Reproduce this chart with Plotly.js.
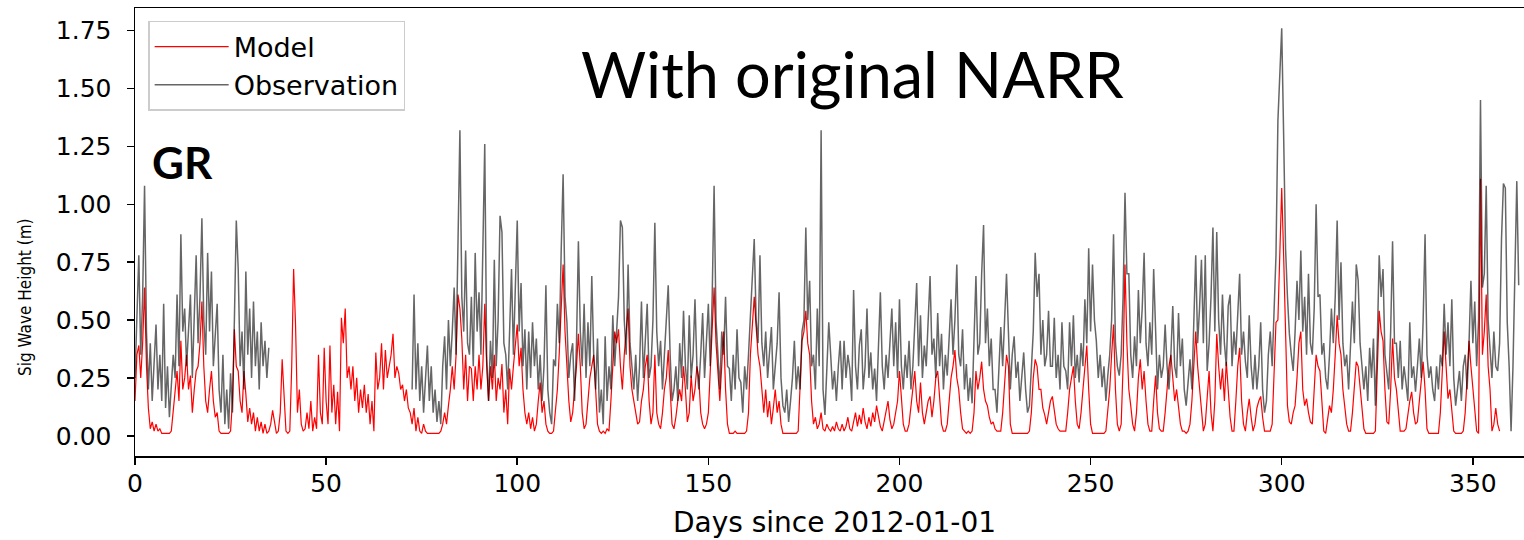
<!DOCTYPE html>
<html>
<head>
<meta charset="utf-8">
<script src="https://cdn.plot.ly/plotly-3.0.1.min.js"></script>
<style>
  html, body { margin: 0; padding: 0; background: #ffffff; overflow: hidden; }
  #chart { width: 1536px; height: 540px; }
</style>
</head>
<body>
<div id="chart"></div>
<script>
// Sampling step of the series (days)
const stepDays = 0.5;

// Observed significant wave height (m), every 0.5 day from day 0; null = no observation
const observation = [
  0.25,0.55,0.78,0.35,0.6,1.08,0.45,0.2,0.4,0.15,0.3,0.48,0.2,0.35,0.15,0.57,0.12,0.3,0.08,0.2,
  0.35,0.25,0.61,0.3,0.87,0.45,0.55,0.3,0.45,0.61,0.25,0.5,0.78,0.4,0.6,0.94,0.5,0.35,0.79,0.45,
  0.71,0.3,0.45,0.57,0.2,0.1,0.35,0.05,0.2,0.03,0.27,0.1,0.5,0.93,0.72,0.3,0.45,0.2,0.71,0.35,
  0.55,0.25,0.58,0.3,0.45,0.2,0.49,0.3,0.41,0.25,0.38,null,null,null,null,null,null,null,null,null,
  null,null,null,null,null,null,null,null,null,null,null,null,null,null,null,null,null,null,null,null,
  null,null,null,null,null,null,null,null,null,null,null,null,null,null,null,null,null,null,null,null,
  null,null,null,null,null,null,null,null,null,null,null,null,null,null,null,null,null,null,null,null,
  null,null,null,null,null,0.2,0.61,0.2,0.4,0.15,0.3,0.1,0.25,0.39,0.15,0.3,0.1,0.2,0.06,0.15,
  0.05,0.3,0.43,0.2,0.5,0.3,0.45,0.64,0.35,0.9,1.32,0.6,0.45,0.8,0.4,0.35,0.6,0.3,0.79,0.45,
  0.62,0.35,0.8,1.26,0.35,0.15,0.41,0.25,0.76,0.3,0.5,0.95,0.88,0.4,0.35,0.2,0.45,0.72,0.35,0.6,
  0.93,0.45,0.66,0.3,0.46,0.2,0.45,0.25,0.49,0.3,0.42,0.2,0.35,0.15,0.3,0.65,0.2,0.1,0.05,0.33,
  0.3,0.57,0.4,0.8,1.13,0.6,0.49,0.25,0.35,0.4,0.15,0.4,0.84,0.45,0.3,0.57,0.25,0.49,0.3,0.69,
  0.35,0.2,0.42,0.1,0.2,0.05,0.43,0.15,0.3,0.2,0.52,0.3,0.45,0.6,0.93,0.9,0.5,0.35,0.74,0.4,
  0.3,0.2,0.35,0.15,0.3,0.58,0.25,0.4,0.57,0.25,0.3,0.5,0.92,0.45,0.3,0.41,0.2,0.35,0.5,0.65,
  0.35,0.15,0.2,0.3,0.15,0.4,0.25,0.54,0.3,0.2,0.52,0.25,0.35,0.59,0.3,0.2,0.35,0.53,0.25,0.4,
  0.57,0.3,0.6,1.08,0.5,0.35,0.2,0.45,0.35,0.6,0.3,0.29,0.15,0.35,0.2,0.46,0.25,0.23,0.1,0.3,
  0.2,0.35,0.5,0.65,0.85,0.5,0.4,0.78,0.4,0.3,0.45,0.25,0.35,0.47,0.2,0.3,0.4,0.62,0.25,0.13,
  0.1,0.2,0.06,0.15,0.25,0.41,0.2,0.3,0.2,0.45,0.5,0.9,0.5,0.67,0.3,0.35,0.2,0.55,0.3,1.32,
  0.2,0.09,0.3,0.49,0.35,0.2,0.28,0.15,0.3,0.41,0.2,0.41,0.25,0.35,0.29,0.15,0.63,0.3,0.2,0.39,
  0.46,0.2,0.3,0.55,0.25,0.36,0.2,0.29,0.15,0.35,0.62,0.3,0.2,0.35,0.25,0.4,0.55,0.3,0.49,0.25,
  0.59,0.3,0.2,0.35,0.25,0.41,0.2,0.3,0.5,0.66,0.3,0.52,0.25,0.39,0.3,0.5,0.69,0.35,0.42,0.25,
  0.53,0.3,0.44,0.2,0.35,0.26,0.4,0.59,0.35,0.5,0.74,0.35,0.3,0.46,0.2,0.31,0.15,0.25,0.14,0.4,
  0.69,0.35,0.4,0.7,0.91,0.4,0.55,0.3,0.42,0.2,0.2,0.1,0.3,0.47,0.3,0.5,0.7,0.45,0.2,0.35,
  0.43,0.25,0.32,0.15,0.25,0.36,0.2,0.1,0.13,0.3,0.45,0.79,0.6,0.7,0.35,0.5,0.3,0.35,0.54,0.3,
  0.3,0.51,0.25,0.35,0.2,0.49,0.3,0.28,0.2,0.49,0.3,0.52,0.25,0.35,0.23,0.4,0.3,0.59,0.4,0.81,
  0.45,0.74,0.5,0.41,0.25,0.35,0.21,0.3,0.15,0.26,0.35,0.5,0.87,0.4,0.3,0.26,0.35,0.6,1.05,0.7,
  0.7,0.35,0.25,0.43,0.3,0.63,0.4,0.55,0.79,0.4,0.3,0.49,0.35,0.72,0.4,0.2,0.35,0.25,0.3,0.48,
  0.3,0.2,0.35,0.56,0.3,0.25,0.53,0.3,0.42,0.2,0.13,0.25,0.33,0.2,0.45,0.78,0.4,0.55,0.76,0.4,
  0.78,0.28,0.4,0.6,0.9,0.45,0.88,0.5,0.35,0.61,0.4,0.3,0.56,0.61,0.3,0.45,0.35,0.5,0.7,0.35,
  0.45,0.32,0.25,0.52,0.3,0.2,0.35,0.2,0.3,0.49,0.2,0.1,0.15,0.35,0.45,0.3,0.55,0.78,1.36,1.53,
  1.76,1.3,0.81,0.6,0.44,0.35,0.28,0.45,0.67,0.5,0.8,0.45,0.6,0.35,0.7,0.4,0.35,0.55,1.0,0.6,
  0.61,0.35,0.4,0.25,0.2,0.35,0.55,0.4,0.6,0.93,0.5,0.75,0.4,0.3,0.35,0.2,0.4,0.58,0.4,0.74,
  0.67,0.4,0.3,0.2,0.3,0.15,0.38,0.25,0.42,0.13,0.4,0.78,0.6,0.72,0.35,0.28,0.2,0.45,0.84,0.4,
  0.4,0.25,0.41,0.2,0.3,0.23,0.15,0.49,0.25,0.3,0.19,0.3,0.42,0.25,0.5,0.87,0.35,0.25,0.3,0.2,
  0.15,0.3,0.2,0.35,0.3,0.57,0.35,0.49,0.3,0.59,0.25,0.13,0.2,0.28,0.15,0.3,0.35,0.2,0.4,0.67,
  0.4,0.58,0.3,0.5,1.45,0.64,0.7,1.08,0.5,0.35,0.25,0.45,0.3,0.28,0.4,0.85,1.09,1.07,0.49,0.3,
  0.02,0.3,0.7,1.1,0.65
];

// Modelled significant wave height (m), every 0.5 day from day 0
const model = [
  0.15,0.35,0.39,0.25,0.4,0.64,0.3,0.12,0.03,0.06,0.02,0.05,0.02,0.03,0.01,0.01,0.01,0.01,0.01,0.02,
  0.1,0.2,0.28,0.15,0.41,0.2,0.25,0.35,0.2,0.26,0.1,0.2,0.28,0.3,0.4,0.58,0.3,0.15,0.1,0.2,
  0.28,0.15,0.08,0.1,0.02,0.01,0.01,0.01,0.01,0.01,0.02,0.15,0.46,0.3,0.28,0.15,0.1,0.28,0.18,0.06,
  0.12,0.05,0.1,0.02,0.08,0.02,0.06,0.01,0.05,0.01,0.02,0.05,0.11,0.06,0.01,0.02,0.1,0.33,0.2,0.02,
  0.01,0.02,0.3,0.72,0.48,0.1,0.2,0.05,0.02,0.03,0.1,0.03,0.15,0.02,0.08,0.03,0.35,0.1,0.05,0.38,
  0.15,0.05,0.39,0.1,0.22,0.05,0.19,0.02,0.51,0.4,0.55,0.25,0.3,0.2,0.3,0.15,0.25,0.1,0.2,0.12,
  0.22,0.1,0.18,0.05,0.15,0.02,0.36,0.2,0.25,0.4,0.2,0.37,0.25,0.3,0.35,0.44,0.25,0.3,0.27,0.2,
  0.22,0.15,0.2,0.12,0.1,0.05,0.12,0.02,0.08,0.02,0.01,0.05,0.02,0.01,0.01,0.01,0.01,0.01,0.01,0.01,
  0.02,0.05,0.1,0.05,0.13,0.2,0.3,0.2,0.35,0.61,0.55,0.42,0.2,0.35,0.15,0.3,0.29,0.15,0.3,0.2,
  0.35,0.2,0.3,0.57,0.3,0.15,0.3,0.2,0.35,0.15,0.25,0.2,0.31,0.1,0.2,0.05,0.29,0.2,0.3,0.4,
  0.48,0.3,0.38,0.2,0.1,0.05,0.1,0.03,0.08,0.02,0.05,0.15,0.23,0.1,0.15,0.05,0.02,0.01,0.01,0.02,
  0.1,0.2,0.36,0.55,0.74,0.45,0.3,0.15,0.06,0.1,0.2,0.3,0.44,0.3,0.1,0.03,0.05,0.15,0.25,0.3,
  0.35,0.2,0.05,0.02,0.01,0.02,0.01,0.03,0.02,0.15,0.3,0.45,0.4,0.46,0.3,0.2,0.35,0.45,0.55,0.3,
  0.2,0.15,0.1,0.05,0.06,0.15,0.2,0.3,0.35,0.15,0.05,0.1,0.35,0.1,0.05,0.03,0.1,0.2,0.25,0.37,
  0.2,0.05,0.03,0.08,0.15,0.2,0.15,0.3,0.2,0.06,0.1,0.26,0.15,0.2,0.3,0.25,0.1,0.05,0.03,0.05,
  0.1,0.3,0.5,0.64,0.4,0.27,0.15,0.3,0.45,0.2,0.05,0.01,0.01,0.01,0.02,0.01,0.01,0.01,0.01,0.01,
  0.02,0.1,0.35,0.5,0.6,0.47,0.35,0.3,0.2,0.1,0.2,0.08,0.15,0.05,0.12,0.2,0.1,0.15,0.05,0.01,
  0.01,0.01,0.01,0.01,0.01,0.01,0.01,0.02,0.2,0.41,0.45,0.54,0.4,0.35,0.15,0.05,0.08,0.03,0.05,0.1,
  0.03,0.02,0.05,0.03,0.02,0.04,0.02,0.06,0.03,0.02,0.05,0.02,0.04,0.08,0.03,0.02,0.06,0.1,0.04,0.09,
  0.05,0.12,0.06,0.03,0.08,0.04,0.1,0.06,0.13,0.08,0.04,0.02,0.06,0.1,0.15,0.07,0.03,0.05,0.1,0.15,
  0.28,0.15,0.05,0.02,0.02,0.05,0.12,0.2,0.28,0.15,0.1,0.23,0.1,0.05,0.1,0.15,0.17,0.08,0.15,0.25,
  0.28,0.15,0.05,0.02,0.02,0.05,0.15,0.25,0.3,0.37,0.25,0.2,0.1,0.03,0.02,0.01,0.02,0.01,0.02,0.1,
  0.28,0.2,0.25,0.32,0.2,0.15,0.13,0.08,0.05,0.06,0.03,0.02,0.02,0.02,0.1,0.25,0.35,0.3,0.05,0.01,
  0.01,0.01,0.01,0.01,0.01,0.01,0.01,0.01,0.02,0.1,0.25,0.33,0.3,0.2,0.2,0.12,0.09,0.05,0.1,0.15,
  0.17,0.1,0.05,0.03,0.02,0.02,0.02,0.02,0.1,0.2,0.25,0.3,0.15,0.05,0.03,0.1,0.2,0.3,0.39,0.2,
  0.05,0.01,0.01,0.01,0.01,0.01,0.01,0.01,0.02,0.1,0.2,0.35,0.48,0.2,0.05,0.02,0.05,0.3,0.74,0.4,
  0.2,0.13,0.05,0.02,0.1,0.25,0.33,0.2,0.28,0.15,0.05,0.02,0.02,0.15,0.26,0.1,0.03,0.02,0.02,0.1,
  0.2,0.3,0.35,0.25,0.15,0.2,0.13,0.05,0.02,0.02,0.01,0.02,0.05,0.15,0.3,0.45,0.3,0.2,0.1,0.02,
  0.05,0.15,0.28,0.1,0.02,0.15,0.44,0.3,0.2,0.29,0.15,0.32,0.2,0.08,0.02,0.02,0.15,0.3,0.38,0.15,
  0.05,0.02,0.1,0.16,0.08,0.02,0.05,0.12,0.15,0.17,0.08,0.02,0.02,0.02,0.02,0.05,0.3,0.49,0.5,0.8,
  1.07,0.78,0.4,0.13,0.06,0.05,0.1,0.13,0.25,0.4,0.45,0.2,0.13,0.16,0.1,0.06,0.05,0.2,0.35,0.3,
  0.28,0.15,0.02,0.01,0.08,0.13,0.1,0.2,0.35,0.52,0.4,0.35,0.2,0.13,0.05,0.02,0.02,0.1,0.2,0.32,
  0.3,0.2,0.1,0.03,0.01,0.01,0.01,0.01,0.01,0.02,0.3,0.54,0.45,0.41,0.2,0.06,0.05,0.2,0.42,0.25,
  0.2,0.1,0.02,0.02,0.02,0.03,0.1,0.15,0.19,0.1,0.05,0.06,0.15,0.25,0.32,0.2,0.03,0.01,0.01,0.01,
  0.01,0.01,0.01,0.1,0.3,0.45,0.3,0.16,0.2,0.1,0.02,0.01,0.01,0.01,0.01,0.02,0.1,0.25,0.41,0.3,
  0.2,0.1,0.02,0.01,1.11,0.35,0.45,0.61,0.3,0.2,0.02,0.05,0.12,0.05,0.02
];

// Axis ticks
const xTickValues = [0, 50, 100, 150, 200, 250, 300, 350];
const yTickValues = [0, 0.25, 0.5, 0.75, 1.0, 1.25, 1.5, 1.75];
const yTickLabels = ['0.00', '0.25', '0.50', '0.75', '1.00', '1.25', '1.50', '1.75'];

const seriesNames = ['Model', 'Observation'];
const xTitle = 'Days since 2012-01-01';
const yTitle = 'Sig Wave Height (m)';
const headline = 'With original NARR';
const stationLabel = 'GR';

const modelDays = model.map((_, i) => i * stepDays);
const obsDays = observation.map((_, i) => i * stepDays);

const traces = [
  {
    x: modelDays, y: model, type: 'scatter', mode: 'lines', name: seriesNames[0],
    line: { color: '#ff0000', width: 1.2 }, connectgaps: false
  },
  {
    x: obsDays, y: observation, type: 'scatter', mode: 'lines', name: seriesNames[1],
    line: { color: 'rgba(0,0,0,0.6)', width: 1.5 }, connectgaps: false
  }
];

const axisCommon = {
  showline: true, mirror: true, linecolor: '#000000', linewidth: 1.5,
  ticks: 'outside', ticklen: 7, tickwidth: 1.5, tickcolor: '#000000',
  showgrid: false, zeroline: false, automargin: false,
  tickfont: { family: 'DejaVu Sans', size: 25, color: '#000000' }
};

const layout = {
  width: 1536, height: 540,
  margin: { l: 135, r: 2, t: 8, b: 84 },
  paper_bgcolor: '#ffffff', plot_bgcolor: '#ffffff',
  font: { family: 'DejaVu Sans', color: '#000000' },
  showlegend: true,
  xaxis: Object.assign({}, axisCommon, {
    range: [0, 366], tickvals: xTickValues, ticklabelstandoff: -3,
    title: { text: xTitle, font: { family: 'DejaVu Sans', size: 28, color: '#000000' }, standoff: 16 }
  }),
  yaxis: Object.assign({}, axisCommon, {
    range: [-0.0875, 1.848], tickvals: yTickValues, ticktext: yTickLabels, ticklabelstandoff: 10
  }),
  legend: {
    x: 0.0094, y: 0.971, xanchor: 'left', yanchor: 'top',
    bgcolor: 'rgba(255,255,255,0.85)', bordercolor: '#cccccc', borderwidth: 1.5,
    font: { family: 'DejaVu Sans', size: 27, color: '#000000' },
    itemwidth: 74, tracegroupgap: 0
  },
  annotations: [
    {
      text: yTitle, xref: 'paper', yref: 'paper', x: -0.0786, y: 0.355,
      xanchor: 'center', yanchor: 'middle', textangle: -90, showarrow: false,
      font: { family: 'DejaVu Sans Condensed, DejaVu Sans', size: 17, color: '#000000' }
    },
    {
      text: headline, xref: 'paper', yref: 'paper', x: 0.513, y: 0.853,
      xanchor: 'center', yanchor: 'middle', showarrow: false,
      font: { family: 'Lato', size: 63, color: '#000000' }
    },
    {
      text: stationLabel, xref: 'paper', yref: 'paper', x: 0.0343, y: 0.656,
      xanchor: 'center', yanchor: 'middle', showarrow: false,
      font: { family: 'Lato', size: 44, color: '#000000', weight: 700 }
    }
  ]
};

Plotly.newPlot('chart', traces, layout, { staticPlot: true, displayModeBar: false });
</script>
</body>
</html>
